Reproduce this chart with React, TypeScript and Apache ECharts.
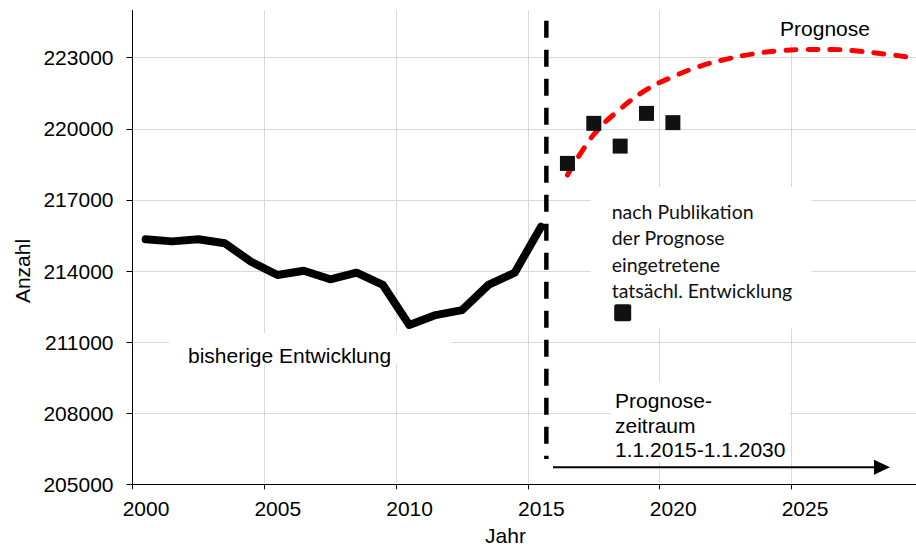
import React, { useEffect, useRef } from 'react';
import * as echarts from 'echarts';

// ---- data ----
const years = [2000, 2001, 2002, 2003, 2004, 2005, 2006, 2007, 2008, 2009, 2010, 2011, 2012, 2013, 2014, 2015];
const historic = [215340, 215250, 215340, 215170, 214390, 213830, 214010, 213650, 213930, 213410, 211720, 212140, 212350, 213410, 213930, 215870];
const actualYears = [2016, 2017, 2018, 2019, 2020];
const actual = [218540, 220230, 219270, 220650, 220260];
const forecastYears = [2016, 2017, 2018, 2019, 2020, 2021, 2022, 2023, 2024, 2025, 2026, 2027, 2028, 2029];
const forecast = [218050, 219760, 220830, 221650, 222200, 222630, 222930, 223150, 223290, 223345, 223350, 223280, 223160, 223020];
const midYear = 0.5;
const publicationX = 2015.7;
const publicationRange = [224560, 206070];
const yTicks = [205000, 208000, 211000, 214000, 217000, 220000, 223000];
const xTicks = [2000, 2005, 2010, 2015, 2020, 2025, 2030];

const SANS = '"Liberation Sans", Arial, sans-serif';
const CAL = 'Lato, "Noto Sans", sans-serif';

export default function App() {
  const ref = useRef<HTMLDivElement>(null);
  useEffect(() => {
    if (!ref.current) return;
    const chart = echarts.init(ref.current, undefined, { renderer: 'svg' });
    const option: any = {
      animation: false,
      backgroundColor: '#ffffff',
      grid: { left: 132.5, top: 10.3, right: -7.3, bottom: 62.7, containLabel: false, outerBoundsMode: 'none' },
      xAxis: {
        type: 'value',
        min: xTicks[0],
        max: xTicks[xTicks.length - 1],
        interval: 5,
        axisLine: { show: true, onZero: false, lineStyle: { color: '#000', width: 1 } },
        axisTick: { show: true, length: 5, lineStyle: { color: '#000' } },
        axisLabel: {
          formatter: (v: number) => String(v),
          color: '#000',
          fontFamily: SANS,
          fontSize: 21,
          margin: 14,
          padding: [0, 0, 0, 27],
          showMaxLabel: false,
          showMinLabel: true,
        },
        splitLine: { show: true, lineStyle: { color: '#d9d9d9', width: 1 } },
      },
      yAxis: {
        type: 'value',
        min: yTicks[0],
        max: 225000,
        interval: 3000,
        axisLine: { show: true, lineStyle: { color: '#000', width: 1 } },
        axisTick: { show: true, length: 6, lineStyle: { color: '#000' }, customValues: yTicks },
        axisLabel: {
          formatter: (v: number) => String(v),
          color: '#000',
          fontFamily: SANS,
          fontSize: 21,
          margin: 19,
          customValues: yTicks,
        },
        splitLine: { show: true, lineStyle: { color: '#d9d9d9', width: 1 } },
      },
      series: [
        {
          type: 'line',
          name: 'bisherige Entwicklung',
          data: years.map((y, i) => [y + midYear, historic[i]]),
          symbol: 'none',
          z: 5,
          lineStyle: { color: '#000', width: 8, cap: 'round', join: 'round' },
        },
        {
          type: 'line',
          name: 'Prognose',
          data: forecastYears.map((y, i) => [y + midYear, forecast[i]]),
          symbol: 'none',
          smooth: 0.4,
          z: 5,
          lineStyle: { color: '#ff0000', width: 5, type: [10, 12], cap: 'round' },
        },
        {
          type: 'scatter',
          name: 'tatsächl. Entwicklung',
          data: actualYears.map((y, i) => [y + midYear, actual[i]]),
          symbol: 'rect',
          symbolSize: 15,
          z: 6,
          itemStyle: { color: '#111', opacity: 1 },
        },
        {
          type: 'line',
          name: 'Prognosebeginn',
          data: publicationRange.map((v) => [publicationX, v]),
          symbol: 'none',
          z: 5,
          lineStyle: { color: '#000', width: 4.5, type: [17, 12], cap: 'butt' },
        },
      ],
      graphic: [
        { type: 'rect', z: 1, shape: { x: 169, y: 333, width: 282, height: 31 }, style: { fill: '#fff' } },
        { type: 'text', z: 2, x: 188, y: 355, style: { text: 'bisherige Entwicklung', fill: '#000', fontSize: 21, fontFamily: SANS, textAlign: 'left', textVerticalAlign: 'middle' } },
        { type: 'rect', z: 1, shape: { x: 760, y: 10.5, width: 130, height: 33 }, style: { fill: '#fff' } },
        { type: 'text', z: 2, x: 825, y: 28, style: { text: 'Prognose', fill: '#000', fontSize: 21, fontFamily: SANS, textAlign: 'center', textVerticalAlign: 'middle' } },
        { type: 'rect', z: 1, shape: { x: 591, y: 187, width: 221, height: 141 }, style: { fill: '#fff' } },
        { type: 'text', z: 2, x: 611.7, y: 198.5, style: { text: 'nach Publikation\nder Prognose\neingetretene\ntatsächl. Entwicklung', fill: '#111', fontSize: 19.5, lineHeight: 26.3, fontFamily: CAL, textAlign: 'left', textVerticalAlign: 'top' } },
        { type: 'rect', z: 3, shape: { x: 614.2, y: 304.2, width: 17, height: 17, r: 2 }, style: { fill: '#111' } },
        { type: 'rect', z: 1, shape: { x: 610, y: 382, width: 179, height: 80 }, style: { fill: '#fff' } },
        { type: 'text', z: 2, x: 615, y: 388.5, style: { text: 'Prognose-\nzeitraum\n1.1.2015-1.1.2030', fill: '#000', fontSize: 21, lineHeight: 24.4, fontFamily: SANS, textAlign: 'left', textVerticalAlign: 'top' } },
        { type: 'line', z: 3, shape: { x1: 553, y1: 467.3, x2: 878, y2: 467.3 }, style: { stroke: '#000', lineWidth: 2 } },
        { type: 'polygon', z: 3, shape: { points: [[874, 459.8], [890, 467.3], [874, 474.8]] }, style: { fill: '#000' } },
        { type: 'text', z: 2, x: 505.5, y: 535.5, style: { text: 'Jahr', fill: '#000', fontSize: 21, fontFamily: SANS, textAlign: 'center', textVerticalAlign: 'middle' } },
        { type: 'text', z: 2, x: 22, y: 271, rotation: Math.PI / 2, style: { text: 'Anzahl', fill: '#000', fontSize: 21, fontFamily: SANS, textAlign: 'center', textVerticalAlign: 'middle' } },
      ],
    };
    chart.setOption(option);
    return () => chart.dispose();
  }, []);
  return <div ref={ref} style={{ position: 'fixed', left: 0, top: 0, width: 916, height: 547 }} />;
}
